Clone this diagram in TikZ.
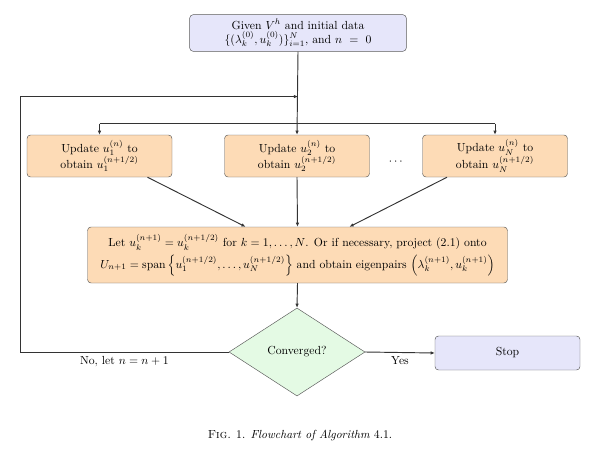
\documentclass[tikz,border=0pt]{standalone}
\usepackage{amsmath, amssymb}
\usetikzlibrary{shapes.geometric, arrows.meta, positioning, calc}

\definecolor{boxgray}{RGB}{90, 90, 90}
\definecolor{startblue}{RGB}{230, 230, 250}
\definecolor{updpeach}{RGB}{253, 219, 182}
\definecolor{decgreen}{RGB}{228, 250, 228}

\tikzset{
  basebox/.style={draw=boxgray, rounded corners=3pt, align=center, inner sep=2pt},
  initbox/.style={basebox, fill=startblue, minimum width=6.5cm, minimum height=1.1cm},
  updbox/.style={basebox, fill=updpeach, minimum width=4.35cm, minimum height=1.26cm},
  projbox/.style={basebox, fill=updpeach, minimum width=12.6cm, minimum height=1.68cm},
  decbox/.style={draw=boxgray, diamond, aspect=1.55, fill=decgreen, minimum width=4.08cm, minimum height=2.64cm, inner sep=0pt},
  stopbox/.style={basebox, fill=startblue, minimum width=4.35cm, minimum height=1.02cm},
  arr/.style={-{Latex[length=3.5pt, width=3pt]}, thick, draw=black!80},
  line/.style={thick, draw=black!80}
}

\begin{document}
\begin{tikzpicture}
  \useasboundingbox (0,0) rectangle (17.79,13.5);

  % nodes
  \node[initbox] (init) at (8.94,12.51) {Given $V^h$ and initial data\\
    $\{(\lambda_k^{(0)},u_k^{(0)})\}_{i=1}^N$, and $n\ =\ 0$};
  \node[updbox] (upd1) at (2.985,8.82) {Update $u_1^{(n)}$ to\\obtain $u_1^{(n+1/2)}$};
  \node[updbox] (upd2) at (8.91,8.82) {Update $u_2^{(n)}$ to\\obtain $u_2^{(n+1/2)}$};
  \node[updbox] (updN) at (14.85,8.82) {Update $u_N^{(n)}$ to\\obtain $u_N^{(n+1/2)}$};
  \node (dots) at (11.9,8.64) {$\cdots$};
  \node[projbox] (proj) at (8.925,5.85) {Let $u_k^{(n+1)} = u_k^{(n+1/2)}$ for $k=1,\dots,N$. Or if necessary, project (2.1) onto\\[3pt]
    $U_{n+1} = \operatorname{span}\left\{u_1^{(n+1/2)},\dots,u_N^{(n+1/2)}\right\}$ and obtain eigenpairs $\left(\lambda_k^{(n+1)},u_k^{(n+1)}\right)$};
  \node[decbox] (conv) at (8.91,2.94) {Converged?};
  \node[stopbox] (stop) at (15.225,2.91) {Stop};

  % connectors
  \coordinate (split) at ($(init.south)+(0,-2.16)$);
  \coordinate (back) at ($(init.south)+(0,-1.35)$);
  \coordinate (loop) at (0.6,0 |- conv.west);
  \draw[arr] (init.south) -- (upd2.north);
  \draw[line] (upd1.north |- split) -- (updN.north |- split);
  \draw[arr] (upd1.north |- split) -- (upd1.north);
  \draw[arr] (updN.north |- split) -- (updN.north);
  \draw[arr] ([xshift=1.44cm]upd1.south) -- ([xshift=-1.56cm]proj.north);
  \draw[arr] (upd2.south) -- (proj.north);
  \draw[arr] ([xshift=-1.44cm]updN.south) -- ([xshift=1.56cm]proj.north);
  \draw[arr] (proj.south) -- (conv.north);
  \draw[arr] (conv.east) -- node[below, pos=0.5] {Yes} (stop.west);
  \draw[arr] (conv.west) -- node[below] {No, let $n=n+1$} (loop) |- (back);

  % caption
  \node (cap) at (9.0,0.42) {\textsc{Fig.} 1. \emph{Flowchart of Algorithm} 4.1.};
\end{tikzpicture}
\end{document}
